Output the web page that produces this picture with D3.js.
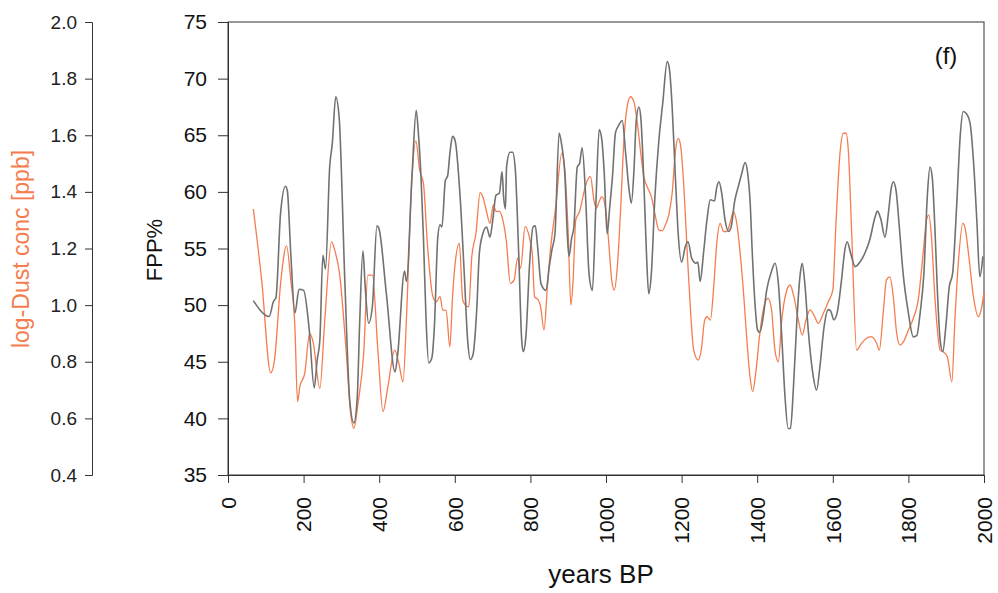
<!DOCTYPE html>
<html>
<head>
<meta charset="utf-8">
<script src="https://cdn.jsdelivr.net/npm/d3@7.9.0/dist/d3.min.js"></script>
<style>
  html, body { margin: 0; padding: 0; background: #fff; }
  svg { display: block; font-family: "Liberation Sans", Arial, sans-serif; }
</style>
</head>
<body>
<svg id="chart" width="998" height="593"></svg>
<script>
// ---- data ----

// FPP% (grey), [years BP, value]
const fppSeries = [
  [67, 50.4], [109, 49.0], [120, 50.3], [127, 50.7], [139, 58.1], [152, 60.5], [157, 60.1],
  [166, 54.6], [177, 49.3], [188, 51.4], [200, 51.3], [215, 47.8], [228, 42.7], [236, 45.2],
  [243, 46.9], [251, 54.4], [258, 53.2], [269, 62.2], [276, 64.3], [285, 68.4], [294, 66.6],
  [309, 52.2], [322, 41.6], [333, 39.6], [342, 41.9], [348, 48.1], [357, 54.8], [363, 51.6],
  [372, 48.4], [382, 49.9], [394, 57.0], [399, 56.8], [419, 51.0], [442, 44.1], [449, 45.7],
  [467, 53.0], [472, 52.1], [487, 61.6], [498, 67.2], [503, 65.5], [511, 61.0], [517, 56.0],
  [524, 48.7], [531, 44.9], [539, 45.3], [546, 48.1], [555, 56.0], [561, 57.1], [566, 56.9],
  [575, 61.0], [581, 61.4], [587, 63.4], [594, 64.9], [601, 64.5], [614, 59.6], [625, 52.8],
  [634, 46.9], [641, 45.2], [648, 45.6], [658, 49.6], [665, 54.6], [674, 56.3], [684, 56.9],
  [693, 56.0], [700, 57.4], [709, 59.7], [718, 59.9], [725, 61.8], [729, 59.6], [734, 58.5],
  [737, 62.2], [746, 63.5], [753, 63.5], [760, 62.0], [769, 54.6], [777, 46.9], [781, 45.9],
  [788, 47.2], [798, 53.7], [807, 56.9], [813, 57.0], [819, 55.2], [828, 51.9], [841, 51.3],
  [850, 53.4], [857, 54.9], [865, 56.3], [876, 65.2], [883, 64.1], [891, 61.6], [898, 56.0],
  [902, 54.3], [909, 55.9], [915, 56.9], [924, 62.2], [930, 62.5], [937, 63.9], [946, 59.6],
  [955, 52.8], [964, 51.3], [973, 58.7], [982, 65.5], [989, 64.6], [995, 61.9], [1003, 56.3],
  [1010, 58.7], [1017, 61.3], [1025, 65.2], [1034, 65.9], [1043, 66.3], [1052, 63.4],
  [1061, 60.2], [1067, 59.0], [1074, 61.9], [1080, 66.3], [1087, 67.5], [1092, 66.6],
  [1100, 61.0], [1107, 54.6], [1113, 51.0], [1120, 52.8], [1129, 59.3], [1140, 64.6],
  [1150, 67.8], [1162, 71.5], [1168, 70.8], [1175, 67.5], [1184, 61.0], [1191, 56.3],
  [1200, 53.8], [1210, 55.2], [1217, 55.6], [1227, 54.1], [1238, 53.7], [1243, 53.8],
  [1249, 52.1], [1258, 54.6], [1267, 57.5], [1276, 59.3], [1287, 59.2], [1293, 60.4],
  [1299, 60.9], [1306, 59.9], [1315, 57.5], [1324, 56.5], [1331, 56.9], [1340, 59.1],
  [1351, 60.6], [1359, 61.6], [1368, 62.6], [1375, 61.6], [1381, 59.3], [1387, 54.6],
  [1394, 50.2], [1401, 47.8], [1407, 47.6], [1416, 49.0], [1425, 51.3], [1438, 53.0],
  [1447, 53.7], [1456, 51.9], [1465, 47.2], [1473, 42.2], [1482, 39.1], [1488, 39.1],
  [1496, 42.8], [1505, 48.7], [1514, 52.8], [1519, 53.7], [1526, 51.9], [1535, 47.8],
  [1547, 44.0], [1557, 42.5], [1566, 44.6], [1577, 48.1], [1588, 49.6], [1594, 49.5],
  [1603, 48.7], [1612, 49.4], [1623, 52.2], [1632, 54.9], [1638, 55.6], [1647, 54.6],
  [1659, 53.4], [1672, 53.8], [1685, 54.6], [1698, 55.8], [1712, 57.8], [1718, 58.3],
  [1727, 57.6], [1738, 56.0], [1747, 58.1], [1754, 60.2], [1760, 60.9], [1767, 60.2],
  [1776, 56.9], [1786, 52.8], [1800, 49.3], [1813, 47.2], [1822, 47.3], [1831, 49.3],
  [1841, 52.8], [1850, 59.6], [1857, 62.2], [1863, 61.3], [1870, 56.9], [1877, 51.0],
  [1884, 46.9], [1891, 45.9], [1899, 48.1], [1908, 51.6], [1917, 52.8], [1928, 59.0],
  [1937, 64.9], [1945, 67.1], [1954, 66.9], [1963, 66.1], [1972, 62.8], [1981, 57.5],
  [1989, 52.5], [1997, 54.3]
];

// log-Dust concentration [ppb] (orange), [years BP, value]
const dustSeries = [
  [67, 1.340], [89, 1.089], [113, 0.761], [123, 0.806], [140, 1.089], [155, 1.209],
  [166, 1.089], [177, 0.924], [184, 0.659], [190, 0.712], [203, 0.759], [216, 0.900],
  [225, 0.871], [243, 0.706], [256, 0.947], [274, 1.224], [282, 1.195], [295, 1.112],
  [313, 0.830], [324, 0.624], [333, 0.565], [344, 0.653], [359, 0.830], [370, 1.106],
  [382, 1.106], [397, 0.830], [410, 0.624], [423, 0.712], [441, 0.841], [452, 0.794],
  [463, 0.729], [473, 0.983], [485, 1.407], [497, 1.580], [507, 1.477], [517, 1.430],
  [528, 1.206], [542, 1.030], [551, 1.012], [561, 1.030], [568, 0.983], [577, 0.981],
  [587, 0.853], [594, 1.030], [601, 1.148], [612, 1.218], [621, 1.018], [628, 1.000],
  [637, 0.994], [645, 1.171], [656, 1.254], [667, 1.397], [674, 1.383], [683, 1.336],
  [693, 1.289], [702, 1.354], [709, 1.331], [718, 1.331], [727, 1.301], [736, 1.230],
  [747, 1.077], [757, 1.089], [766, 1.166], [774, 1.130], [786, 1.277], [799, 1.230],
  [805, 1.183], [811, 1.030], [821, 1.018], [827, 0.994], [836, 0.912], [845, 1.065],
  [853, 1.195], [867, 1.348], [883, 1.536], [891, 1.477], [900, 1.254], [907, 1.000],
  [913, 1.089], [920, 1.301], [930, 1.330], [942, 1.401], [951, 1.442], [959, 1.454],
  [968, 1.371], [974, 1.342], [982, 1.366], [989, 1.383], [998, 1.348], [1006, 1.242],
  [1015, 1.089], [1022, 1.053], [1030, 1.136], [1039, 1.348], [1047, 1.572], [1056, 1.701],
  [1065, 1.736], [1074, 1.718], [1083, 1.642], [1092, 1.536], [1100, 1.454], [1109, 1.418],
  [1120, 1.383], [1131, 1.312], [1140, 1.265], [1149, 1.263], [1157, 1.283], [1166, 1.318],
  [1175, 1.395], [1184, 1.548], [1191, 1.589], [1197, 1.566], [1206, 1.418], [1215, 1.183],
  [1224, 0.971], [1232, 0.841], [1244, 0.806], [1252, 0.841], [1261, 0.947], [1267, 0.959],
  [1276, 0.947], [1285, 1.065], [1293, 1.218], [1302, 1.289], [1311, 1.260], [1320, 1.260],
  [1328, 1.289], [1337, 1.330], [1346, 1.289], [1355, 1.183], [1364, 1.042], [1372, 0.889],
  [1381, 0.747], [1388, 0.694], [1396, 0.759], [1408, 0.912], [1420, 1.006], [1429, 1.024],
  [1438, 0.983], [1447, 0.840], [1456, 0.800], [1465, 0.947], [1476, 1.042], [1487, 1.071],
  [1497, 1.030], [1509, 0.947], [1519, 0.894], [1529, 0.947], [1540, 0.983], [1550, 0.965],
  [1562, 0.936], [1575, 0.971], [1588, 1.012], [1600, 1.053], [1608, 1.277], [1619, 1.536],
  [1628, 1.607], [1635, 1.607], [1641, 1.548], [1650, 1.254], [1663, 0.841], [1676, 0.865],
  [1689, 0.883], [1702, 0.889], [1716, 0.865], [1723, 0.841], [1734, 0.983], [1742, 1.089],
  [1751, 1.100], [1760, 1.030], [1769, 0.900], [1778, 0.859], [1787, 0.871], [1800, 0.912],
  [1813, 0.953], [1826, 1.018], [1839, 1.183], [1848, 1.301], [1854, 1.318], [1861, 1.242],
  [1870, 1.030], [1884, 0.841], [1892, 0.835], [1903, 0.818], [1915, 0.729], [1923, 0.947],
  [1932, 1.148], [1944, 1.289], [1950, 1.272], [1959, 1.183], [1972, 1.030], [1985, 0.959],
  [1994, 0.994], [2000, 1.047]
];

const yearTicks = [0, 200, 400, 600, 800, 1000, 1200, 1400, 1600, 1800, 2000];
const fppTicks = [35, 40, 45, 50, 55, 60, 65, 70, 75];
const dustTicks = [0.4, 0.6, 0.8, 1.0, 1.2, 1.4, 1.6, 1.8, 2.0];

// ---- layout ----
const svg = d3.select('#chart');
const plot = { left: 228, right: 984, top: 22, bottom: 475 };
const dustAxisX = 92;

const x = d3.scaleLinear().domain([0, 2000]).range([plot.left, plot.right]);
const yFpp = d3.scaleLinear().domain([35, 75]).range([plot.bottom, plot.top]);
const yDust = d3.scaleLinear().domain([0.4, 2.0]).range([plot.bottom, plot.top]);

const axisColor = '#333';
const orange = '#f47c4e';

// plot frame
svg.append('rect')
  .attr('x', plot.left).attr('y', plot.top)
  .attr('width', plot.right - plot.left).attr('height', plot.bottom - plot.top)
  .attr('fill', 'none').attr('stroke', axisColor).attr('stroke-width', 1);

// lines
const lineFpp = d3.line().x(d => x(d[0])).y(d => yFpp(d[1])).curve(d3.curveMonotoneX);
const lineDust = d3.line().x(d => x(d[0])).y(d => yDust(d[1])).curve(d3.curveMonotoneX);

svg.append('path').datum(dustSeries)
  .attr('d', lineDust).attr('fill', 'none')
  .attr('stroke', orange).attr('stroke-width', 1.3);

svg.append('path').datum(fppSeries)
  .attr('d', lineFpp).attr('fill', 'none')
  .attr('stroke', '#717171').attr('stroke-width', 1.6);

// x axis
const gx = svg.append('g')
  .attr('transform', `translate(0,${plot.bottom})`)
  .call(d3.axisBottom(x).tickValues(yearTicks).tickSize(8).tickFormat(d3.format('d')));
gx.selectAll('text')
  .attr('transform', 'rotate(-90)')
  .attr('x', -22).attr('y', 0).attr('dy', '0.35em')
  .style('text-anchor', 'end')
  .style('font-size', '21px').attr('fill', '#111');

// main y axis
const gy = svg.append('g')
  .attr('transform', `translate(${plot.left},0)`)
  .call(d3.axisLeft(yFpp).tickValues(fppTicks).tickSize(10).tickPadding(11));
gy.selectAll('text').style('font-size', '21px').attr('fill', '#111');

// dust axis
const gd = svg.append('g')
  .attr('transform', `translate(${dustAxisX},0)`)
  .call(d3.axisLeft(yDust).tickValues(dustTicks).tickSize(7).tickPadding(8).tickFormat(d3.format('.1f')));
gd.selectAll('text').style('font-size', '19px').attr('fill', '#222');

[gx, gy, gd].forEach(g => {
  g.select('.domain').attr('stroke', axisColor);
  g.selectAll('.tick line').attr('stroke', axisColor);
  g.selectAll('text').attr('font-family', '"Liberation Sans", Arial, sans-serif');
});

// titles
svg.append('text')
  .attr('x', 601).attr('y', 583)
  .attr('text-anchor', 'middle').style('font-size', '26px').attr('fill', '#111')
  .text('years BP');

svg.append('text')
  .attr('transform', `translate(162,250) rotate(-90)`)
  .attr('text-anchor', 'middle').style('font-size', '22px').attr('fill', '#111')
  .text('FPP%');

svg.append('text')
  .attr('transform', `translate(29,249) rotate(-90)`)
  .attr('text-anchor', 'middle').style('font-size', '23px').attr('fill', orange)
  .text('log-Dust conc [ppb]');

svg.append('text')
  .attr('x', 946).attr('y', 64)
  .attr('text-anchor', 'middle').style('font-size', '24px').attr('fill', '#111')
  .text('(f)');
</script>
</body>
</html>
